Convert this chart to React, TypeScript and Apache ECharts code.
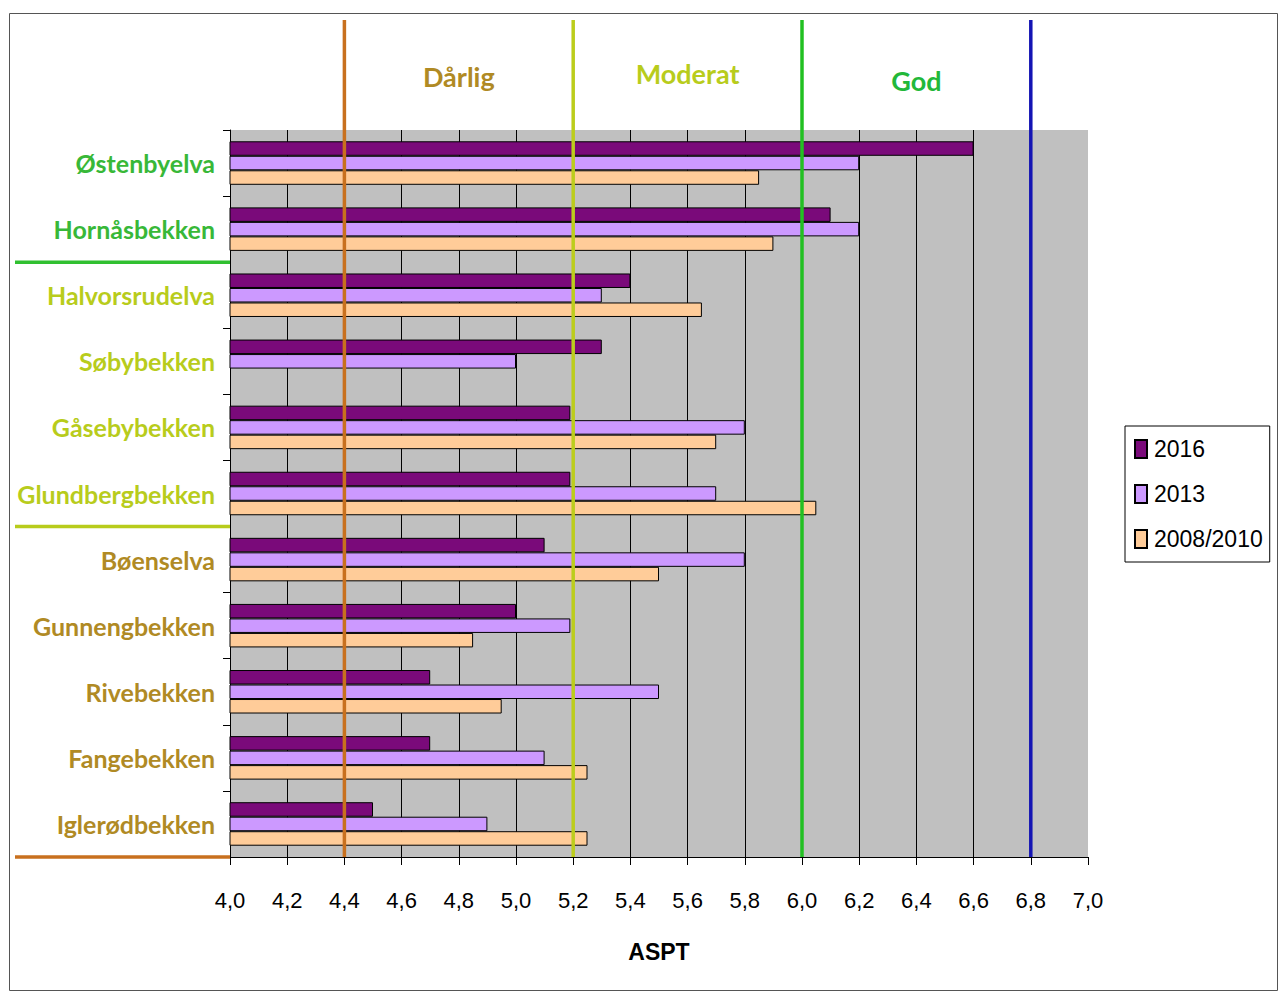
import React, { useEffect, useRef } from "react";
import * as echarts from "echarts";

const categories = [
  "Østenbyelva",
  "Hornåsbekken",
  "Halvorsrudelva",
  "Søbybekken",
  "Gåsebybekken",
  "Glundbergbekken",
  "Bøenselva",
  "Gunnengbekken",
  "Rivebekken",
  "Fangebekken",
  "Iglerødbekken",
];
const categoryColors = [
  "#38b838", "#38b838",
  "#b8cc1c", "#b8cc1c", "#b8cc1c", "#b8cc1c",
  "#b08a24", "#b08a24", "#b08a24", "#b08a24", "#b08a24",
];
const seriesNames = ["2016", "2013", "2008/2010"];
const values2016 = [6.6, 6.1, 5.4, 5.3, 5.19, 5.19, 5.1, 5.0, 4.7, 4.7, 4.5];
const values2013 = [6.2, 6.2, 5.3, 5.0, 5.8, 5.7, 5.8, 5.19, 5.5, 5.1, 4.9];
const values2008 = [5.85, 5.9, 5.65, null, 5.7, 6.05, 5.5, 4.85, 4.95, 5.25, 5.25];
const seriesColors = ["#7a0a7a", "#cc99ff", "#ffcc99"];

const thresholds = [4.4, 5.2, 6.0, 6.8];
const thresholdColors = ["#c8701e", "#bccd1c", "#22c022", "#1414b4"];
const zoneNames = ["Dårlig", "Moderat", "God"];
const zoneColors = ["#b08a24", "#b8cc1c", "#22b83a"];
// separators after category index (boundary below it)
const separatorAfter = [1, 5, 10];
const separatorColors = ["#30c030", "#b8cc1c", "#c8701e"];

const X_MIN = 4;
const X_MAX = 7;
const X_STEP = 0.2;

const ARIAL = "'Liberation Sans', Arial, sans-serif";

export default function App() {
  const ref = useRef<HTMLDivElement>(null);
  useEffect(() => {
    if (!ref.current) return;
    const chart = echarts.init(ref.current, undefined, { renderer: "svg" });
    const grid = { left: 230, right: 191, top: 130, bottom: 137 };
    const data = [values2016, values2013, values2008];
    chart.setOption({
      animation: false,
      backgroundColor: "#ffffff",
      grid: {
        ...grid,
        show: true,
        backgroundColor: "#c0c0c0",
        borderWidth: 0,
      },
      legend: {
        orient: "vertical",
        left: 1125,
        top: 426,
        data: seriesNames,
        icon: "rect",
        itemWidth: 12,
        itemHeight: 18,
        itemGap: 19,
        padding: [10, 7, 10, 9],
        borderColor: "#000",
        borderWidth: 1,
        textStyle: {
          fontFamily: ARIAL,
          fontSize: 23,
          lineHeight: 26,
          color: "#000",
          padding: [0, 0, 0, 2],
        },
      },
      xAxis: {
        type: "value",
        min: X_MIN,
        max: X_MAX,
        interval: X_STEP,
        name: "ASPT",
        nameLocation: "middle",
        nameGap: 83,
        nameTextStyle: {
          fontFamily: ARIAL,
          fontWeight: "bold",
          fontSize: 23,
          color: "#000",
        },
        axisLine: { show: true, lineStyle: { color: "#000", width: 1 } },
        axisTick: { show: true, length: 8, lineStyle: { color: "#000" } },
        axisLabel: {
          margin: 32,
          fontFamily: ARIAL,
          fontSize: 22,
          color: "#000",
          formatter: (v: number) => v.toFixed(1).replace(".", ","),
        },
        splitLine: {
          show: true,
          showMinLine: false,
          showMaxLine: false,
          lineStyle: { color: "#000", width: 1 },
        },
      },
      yAxis: {
        type: "category",
        inverse: true,
        data: categories.map((c, i) => ({
          value: c,
          textStyle: { color: categoryColors[i] },
        })),
        axisLine: { show: true, lineStyle: { color: "#000", width: 1 } },
        axisTick: { show: true, length: 7, lineStyle: { color: "#000" } },
        axisLabel: {
          margin: 15,
          fontFamily: "Lato, 'Open Sans', sans-serif",
          fontWeight: "bold",
          fontSize: 25,
        },
        splitLine: { show: false },
      },
      series: seriesNames.map((name, i) => ({
        name,
        type: "bar",
        data: data[i],
        barWidth: 14.5,
        barGap: "0%",
        itemStyle: {
          color: seriesColors[i],
          borderColor: "#000",
          borderWidth: 1,
        },
      })),
    });

    const px = (v: number) => chart.convertToPixel({ xAxisIndex: 0 }, v) as number;
    const plotTop = grid.top;
    const plotBottom = 994 - grid.bottom;
    const plotLeft = grid.left;
    const band = (plotBottom - plotTop) / categories.length;
    const graphics: any[] = [];
    graphics.push({
      type: "rect",
      shape: { x: 9.5, y: 13.5, width: 1268, height: 977 },
      style: { fill: "none", stroke: "#555", lineWidth: 1 },
      z: 0,
      silent: true,
    });
    thresholds.forEach((t, i) => {
      const x = px(t);
      graphics.push({
        type: "line",
        shape: { x1: x, y1: 20, x2: x, y2: plotBottom },
        style: { stroke: thresholdColors[i], lineWidth: 3.5 },
        z: 100,
      });
    });
    zoneNames.forEach((n, i) => {
      const x = px((thresholds[i] + thresholds[i + 1]) / 2);
      graphics.push({
        type: "text",
        x,
        y: [76, 73, 80][i],
        style: {
          text: n,
          fill: zoneColors[i],
          font: "bold 27px Lato, 'Open Sans', sans-serif",
          textAlign: "center",
          textVerticalAlign: "middle",
        },
        z: 100,
      });
    });
    separatorAfter.forEach((idx, i) => {
      const y = plotTop + band * (idx + 1);
      graphics.push({
        type: "line",
        shape: { x1: 15, y1: y, x2: plotLeft, y2: y },
        style: { stroke: separatorColors[i], lineWidth: 3.5 },
        z: 100,
      });
    });
    chart.setOption({ graphic: graphics });

    return () => chart.dispose();
  }, []);
  return (
    <div
      ref={ref}
      style={{ position: "absolute", left: 0, top: 0, width: 1279, height: 994 }}
    />
  );
}
